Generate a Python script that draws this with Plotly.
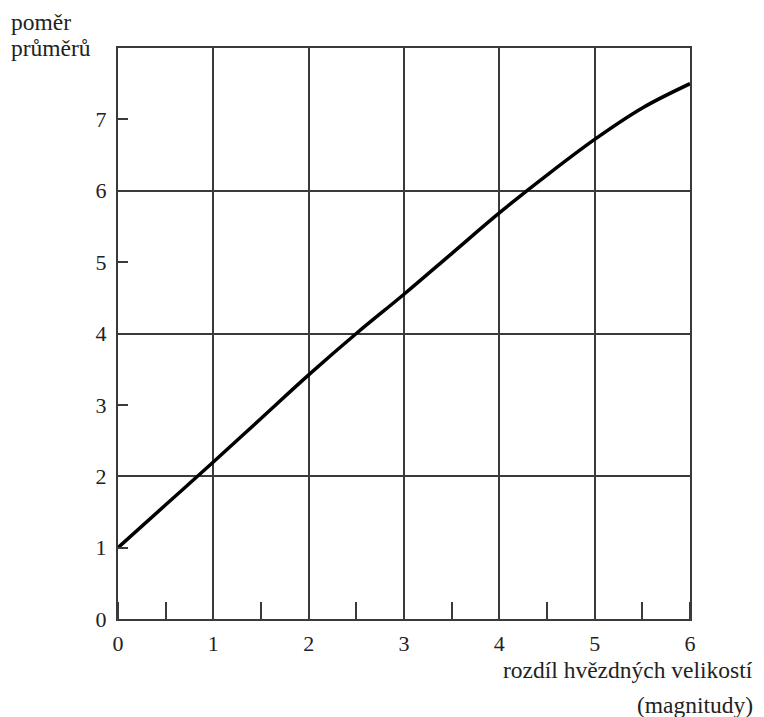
import plotly.graph_objects as go

# data
mag_diff = [0, 0.5, 1, 1.5, 2, 2.5, 3, 3.5, 4, 4.5, 5, 5.5, 6]
ratio = [1.0, 1.6, 2.2, 2.81, 3.42, 4.0, 4.55, 5.12, 5.69, 6.22, 6.72, 7.16, 7.5]
x_ticks = [0, 1, 2, 3, 4, 5, 6]
y_ticks = [0, 1, 2, 3, 4, 5, 6, 7]
y_title_lines = ["poměr", "průměrů"]
x_title_lines = ["rozdíl hvězdných velikostí", "(magnitudy)"]

FONT = "Liberation Serif, Times New Roman, serif"
GRID = "#3a3a3a"
TXT = "#222"

fig = go.Figure()
fig.add_trace(go.Scatter(x=mag_diff, y=ratio, mode="lines",
                         line=dict(color="black", width=3.5, shape="spline"),
                         showlegend=False, hoverinfo="skip"))

fig.update_layout(
    width=756, height=709,
    margin=dict(l=110, r=74, t=40, b=98),
    paper_bgcolor="white", plot_bgcolor="white",
    font=dict(family=FONT, size=22, color=TXT),
    xaxis=dict(range=[0, 6], tickvals=x_ticks, ticktext=[str(v) for v in x_ticks],
               showgrid=True, gridcolor=GRID, gridwidth=2,
               ticks="", showline=True, mirror=True, linecolor=GRID, linewidth=2,
               zeroline=False, ticklabelstandoff=4,
               minor=dict(dtick=0.5, tick0=0, ticks="inside", ticklen=17,
                          tickcolor=GRID, tickwidth=2, showgrid=False)),
    yaxis=dict(range=[0, 8], tickvals=y_ticks, ticktext=[str(v) for v in y_ticks],
               showgrid=False, ticks="inside", ticklen=10, tickcolor=GRID, tickwidth=2,
               showline=True, mirror=True, linecolor=GRID, linewidth=2,
               zeroline=False, ticklabelstandoff=5,
               minor=dict(dtick=2, tick0=0, showgrid=True, gridcolor=GRID,
                          gridwidth=2, ticks="")),
)

for txt, yy in zip(y_title_lines, [1.07, 1.0245]):
    fig.add_annotation(text=txt, xref="paper", yref="paper", x=-0.1888, y=yy,
                       xanchor="left", yanchor="top", showarrow=False, borderpad=0,
                       font=dict(family=FONT, size=23.5, color=TXT))
for txt, yy in zip(x_title_lines, [-0.0893, -0.1506]):
    fig.add_annotation(text=txt, xref="paper", yref="paper", x=1.1136, y=yy,
                       xanchor="right", yanchor="middle", showarrow=False,
                       font=dict(family=FONT, size=23.5, color=TXT))

fig.write_html("out.html")
